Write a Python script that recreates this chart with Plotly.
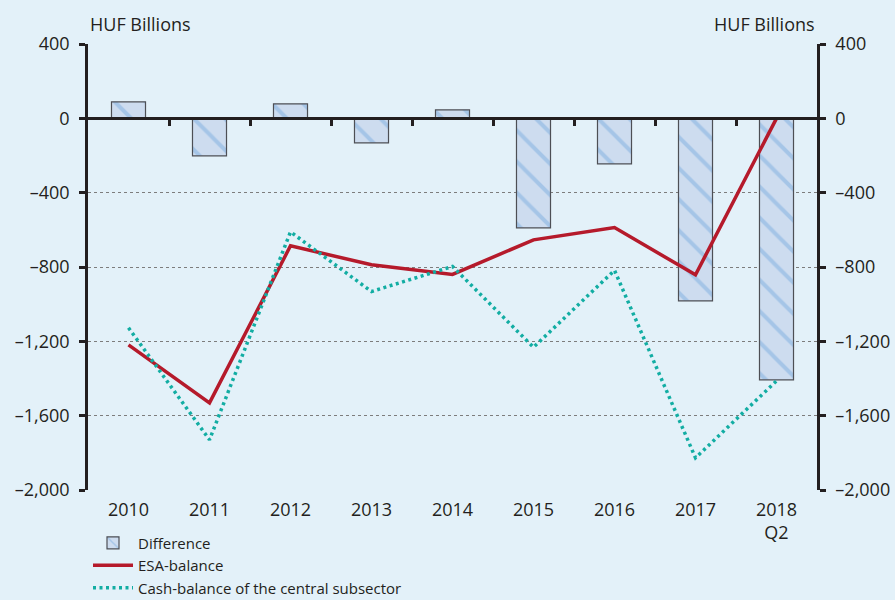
import plotly.graph_objects as go

categories = ["2010", "2011", "2012", "2013", "2014", "2015", "2016", "2017", "2018<br>Q2"]
difference = [89, -202, 78, -132, 46, -589, -245, -982, -1407]
esa_balance = [-1219, -1531, -686, -788, -840, -654, -588, -842, 0]
cash_balance = [-1127, -1730, -611, -932, -797, -1232, -818, -1827, -1413]
y_ticks = [400, 0, -400, -800, -1200, -1600, -2000]

y_range = [-2000, 400]
positions = list(range(len(categories)))
x_range = [-0.5, len(categories) - 0.5]
boundaries = [p + 0.5 for p in positions[:-1]]
y_ticktext = [f"{v:,}".replace("-", "\u2013") for v in y_ticks]

FONT = "Open Sans"
TXT = "#231f20"
AX = "#231f20"
BG = "#e3f1f9"

fig = go.Figure()
fig.add_trace(go.Bar(
    x=positions, y=difference, name="Difference", width=0.42,
    marker=dict(color="#cddcef", line=dict(color="#4d4f55", width=1.2),
                pattern=dict(shape="\\", fgcolor="#7daee0", bgcolor="#cddcef",
                             fillmode="overlay", size=22, solidity=0.18)),
    xaxis="x", yaxis="y",
))
fig.add_trace(go.Scatter(
    x=positions, y=esa_balance, name="ESA-balance", mode="lines",
    line=dict(color="#b51a2b", width=3.5),
    xaxis="x2", yaxis="y2",
))
fig.add_trace(go.Scatter(
    x=positions, y=cash_balance, name="Cash-balance of the central subsector", mode="lines",
    line=dict(color="#12ada3", width=3.5, dash="3px,3.5px"),
    xaxis="x2", yaxis="y2",
))

zero_pos = (0 - y_range[0]) / (y_range[1] - y_range[0])

fig.update_layout(
    template="none",
    width=895, height=600,
    paper_bgcolor=BG, plot_bgcolor=BG,
    margin=dict(l=88, r=78, t=44, b=110, autoexpand=False),
    font=dict(family=FONT, size=17, color=TXT),
    showlegend=True,
    legend=dict(x=0.0, y=-0.082, xanchor="left", yanchor="top",
                orientation="v", font=dict(size=15, color=TXT),
                bgcolor="rgba(0,0,0,0)", itemwidth=40, tracegroupgap=0),
    xaxis=dict(range=x_range, tickmode="array", tickvals=positions, ticktext=categories,
               showline=False, showgrid=False, zeroline=False, ticks="",
               tickfont=dict(size=18, color=TXT), ticklabelstandoff=7, automargin=False),
    xaxis2=dict(range=x_range, overlaying="x", anchor="free", position=zero_pos,
                side="bottom", showline=True, linecolor=AX, linewidth=2.5,
                tickmode="array", tickvals=boundaries, showticklabels=False,
                ticks="outside", ticklen=6, tickwidth=2.5, tickcolor=AX,
                showgrid=False, zeroline=False, automargin=False),
    yaxis=dict(range=y_range, tickmode="array", tickvals=y_ticks, ticktext=y_ticktext,
               showline=True, linecolor=AX, linewidth=2.5,
               ticks="outside", ticklen=6, tickwidth=2.5, tickcolor=AX,
               showgrid=True, gridcolor="#7d7d7d", gridwidth=1, griddash="dot",
               zeroline=False, tickfont=dict(size=18, color=TXT), ticklabelstandoff=6,
               automargin=False),
    yaxis2=dict(range=y_range, overlaying="y", side="right", anchor="x",
                tickmode="array", tickvals=y_ticks, ticktext=y_ticktext,
                showline=True, linecolor=AX, linewidth=2.5,
                ticks="outside", ticklen=6, tickwidth=2.5, tickcolor=AX,
                showgrid=False, zeroline=False,
                tickfont=dict(size=18, color=TXT), ticklabelstandoff=6, automargin=False),
    annotations=[
        dict(text="HUF Billions", xref="paper", yref="paper", x=0, y=1,
             xanchor="left", yanchor="middle", yshift=20, showarrow=False,
             font=dict(size=18, color=TXT)),
        dict(text="HUF Billions", xref="paper", yref="paper", x=1, y=1,
             xanchor="right", yanchor="middle", yshift=20, showarrow=False,
             font=dict(size=18, color=TXT)),
    ],
)

fig.write_html(
    "out.html",
    config={"displayModeBar": False},
    post_script="document.body.style.margin='0';document.body.style.background='#e3f1f9';",
)
